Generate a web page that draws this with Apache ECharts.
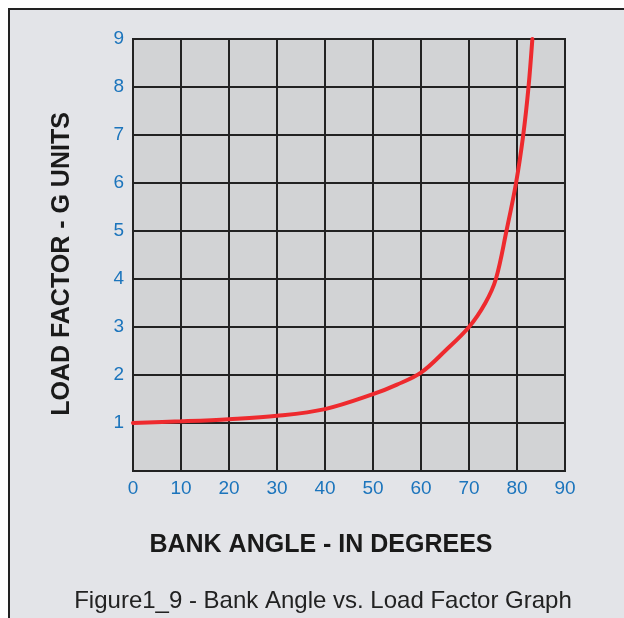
<!DOCTYPE html>
<html>
<head>
<meta charset="utf-8">
<script src="https://cdn.jsdelivr.net/npm/echarts@6/dist/echarts.min.js"></script>
<style>
  html, body { margin: 0; padding: 0; background: #fff; }
  #chart { width: 624px; height: 618px; }
</style>
</head>
<body>
<div id="chart"></div>
<script>
// bank angle (deg) vs load factor (G)
const bankAngle = [0, 10, 20, 30, 40, 50, 55, 60, 65, 70, 73.4, 75.6, 77.8, 79.8, 81.3, 82.4, 83.2]
const loadFactor = [1, 1.035, 1.08, 1.15, 1.29, 1.6, 1.8, 2.05, 2.5, 3, 3.5, 4, 5, 6, 7, 8, 9]
const xTicks = [0, 10, 20, 30, 40, 50, 60, 70, 80, 90]
const yTicks = [1, 2, 3, 4, 5, 6, 7, 8, 9]

const chart = echarts.init(document.getElementById('chart'))

const option = {
    backgroundColor: '#ffffff',
    animation: false,
    graphic: [
        {
            type: 'rect',
            z: -10,
            shape: { x: 9, y: 9, width: 640, height: 640 },
            style: { fill: '#e3e4e8', stroke: '#222', lineWidth: 2 }
        },
        {
            type: 'text',
            x: 62, y: 264,
            rotation: Math.PI / 2,
            style: {
                text: 'LOAD FACTOR - G UNITS',
                fill: '#1a1a1a',
                font: 'bold 25px "Liberation Sans", Arial, sans-serif',
                align: 'center',
                verticalAlign: 'middle'
            }
        },
        {
            type: 'text',
            x: 321, y: 545,
            style: {
                text: 'BANK ANGLE - IN DEGREES',
                fill: '#1a1a1a',
                font: 'bold 25px "Liberation Sans", Arial, sans-serif',
                align: 'center',
                verticalAlign: 'middle'
            }
        },
        {
            type: 'text',
            x: 323, y: 601,
            style: {
                text: 'Figure1_9 - Bank Angle vs. Load Factor Graph',
                fill: '#222',
                font: '24px "Liberation Sans", Arial, sans-serif',
                align: 'center',
                verticalAlign: 'middle'
            }
        }
    ],
    grid: {
        left: 133,
        top: 39,
        width: 432,
        height: 432,
        show: true,
        backgroundColor: '#d2d3d5',
        borderColor: '#222',
        borderWidth: 2
    },
    xAxis: {
        type: 'value',
        min: 0,
        max: 90,
        interval: 10,
        axisLine: { show: false },
        axisTick: { show: false },
        splitLine: { show: true, lineStyle: { color: '#222', width: 2 } },
        axisLabel: {
            color: '#1b74bc',
            fontSize: 19,
            fontFamily: '"Liberation Sans", Arial, sans-serif',
            margin: 8,
            formatter: v => xTicks.includes(v) ? String(v) : ''
        }
    },
    yAxis: {
        type: 'value',
        min: 0,
        max: 9,
        interval: 1,
        axisLine: { show: false },
        axisTick: { show: false },
        splitLine: { show: true, lineStyle: { color: '#222', width: 2 } },
        axisLabel: {
            color: '#1b74bc',
            fontSize: 19,
            fontFamily: '"Liberation Sans", Arial, sans-serif',
            margin: 9,
            formatter: v => yTicks.includes(v) ? String(v) : ''
        }
    },
    series: [{
        type: 'line',
        smooth: 0.35,
        symbol: 'none',
        clip: false,
        lineStyle: { color: '#ee2a2e', width: 4, cap: 'round' },
        data: bankAngle.map((a, i) => [a, loadFactor[i]])
    }]
}

chart.setOption(option)
</script>
</body>
</html>
